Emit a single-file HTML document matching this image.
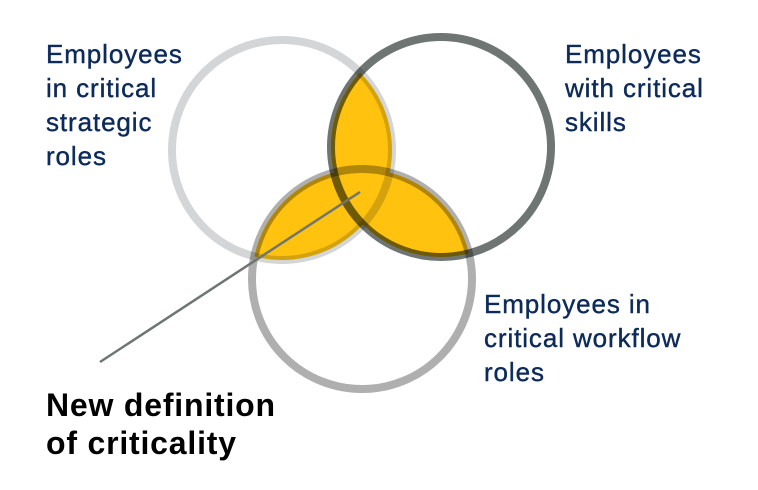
<!DOCTYPE html>
<html><head><style>
body{margin:0;background:#fff;width:758px;height:490px;overflow:hidden;position:relative;font-family:"Liberation Sans",sans-serif}
.t{position:absolute;color:#0c2a5a;font-size:26px;line-height:34px;letter-spacing:0.9px;-webkit-text-stroke:0.4px #0c2a5a}
.b{position:absolute;color:#000;font-size:32px;font-weight:bold;line-height:38px;letter-spacing:0.8px}
</style></head><body>
<svg width="758" height="490" style="position:absolute;left:0;top:0">
<defs>
<clipPath id="a"><circle cx="282" cy="150" r="110"/></clipPath>
<clipPath id="b"><circle cx="441" cy="147" r="110"/></clipPath>
</defs>
<g fill="#ffc20e">
<circle cx="441" cy="147" r="110" clip-path="url(#a)"/>
<circle cx="362" cy="279" r="110" clip-path="url(#a)"/>
<circle cx="362" cy="279" r="110" clip-path="url(#b)"/>
</g>
<g fill="none" stroke-width="8">
<circle cx="282" cy="150" r="110" stroke="#d3d5d7" style="mix-blend-mode:multiply"/>
<circle cx="441" cy="147" r="110" stroke="#6e7572" style="mix-blend-mode:multiply"/>
<circle cx="362" cy="279" r="110" stroke="#afafaf" style="mix-blend-mode:multiply"/>
</g>
<line x1="100" y1="362" x2="360" y2="192" stroke="#6e7572" stroke-width="2.5"/>
</svg>
<div class="t" style="left:46px;top:37px">Employees<br>in critical<br>strategic<br>roles</div>
<div class="t" style="left:565px;top:37px">Employees<br>with critical<br>skills</div>
<div class="t" style="left:484px;top:287px">Employees in<br>critical workflow<br>roles</div>
<div class="b" style="left:46px;top:386px">New definition<br>of criticality</div>
</body></html>
